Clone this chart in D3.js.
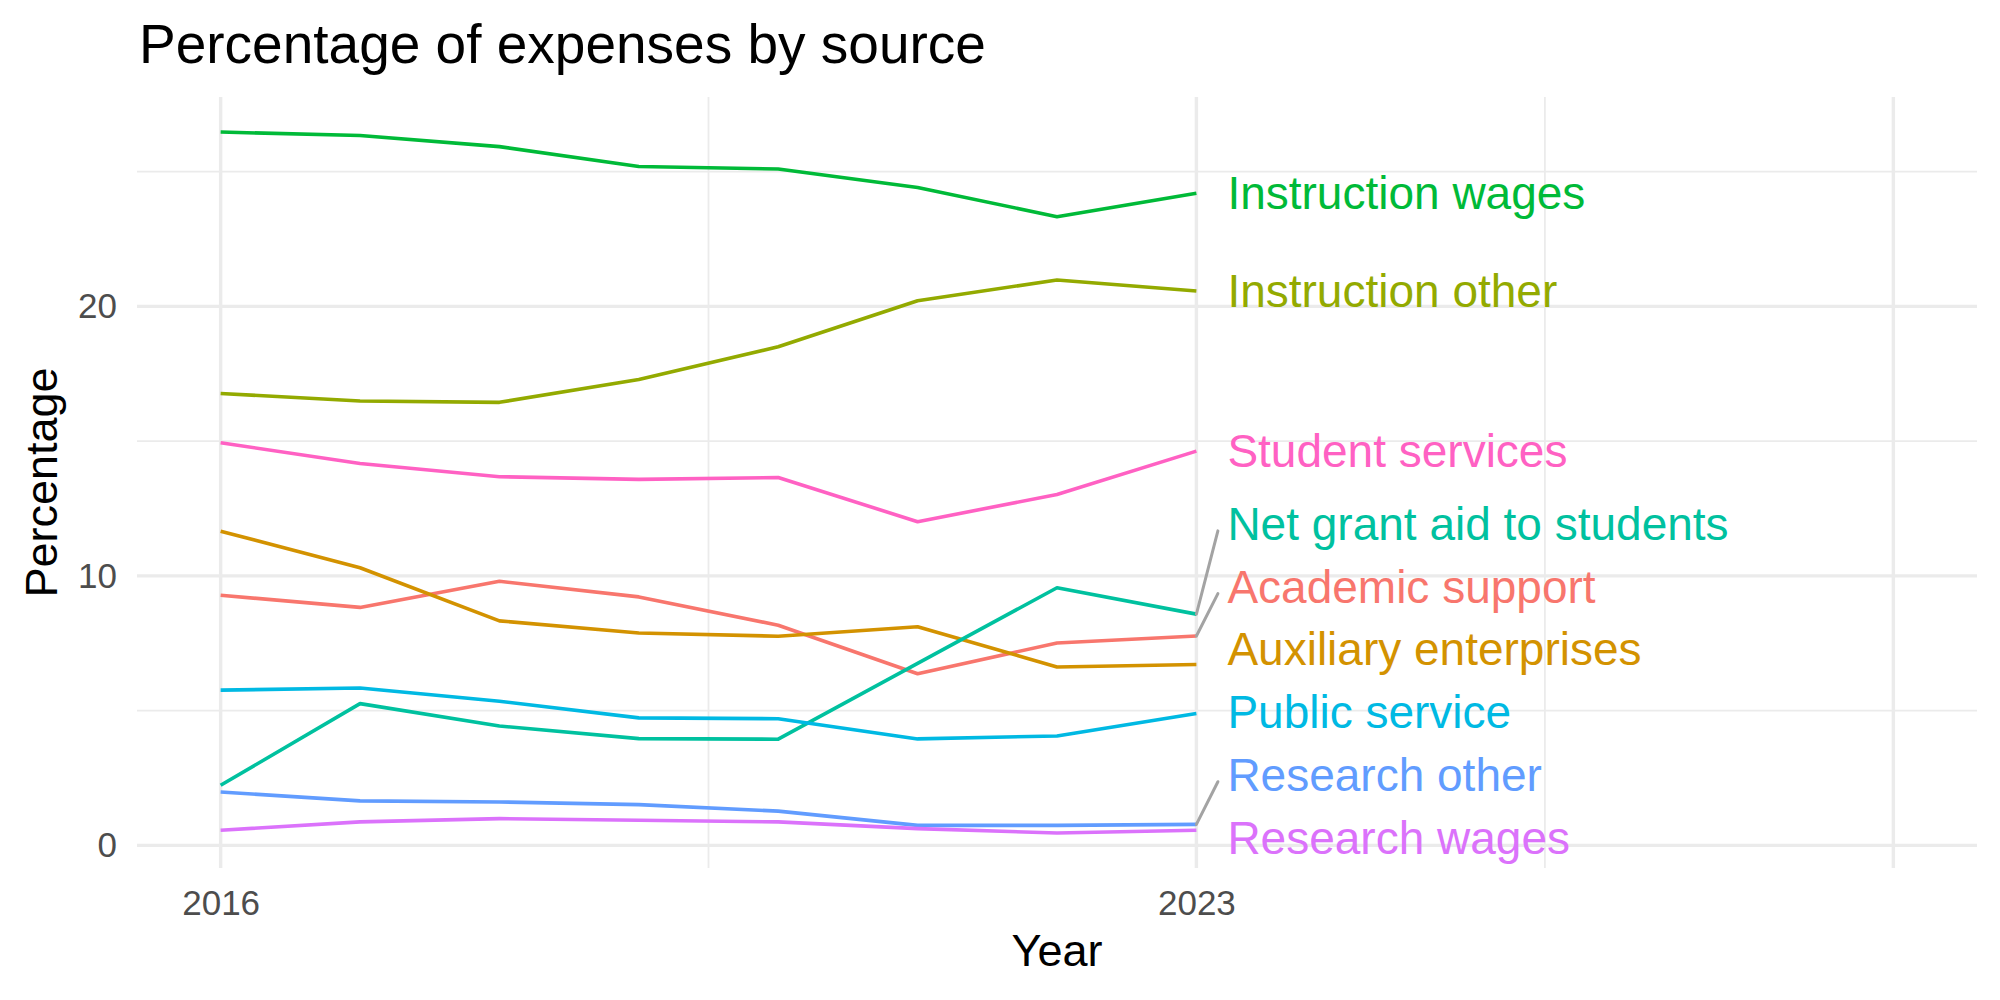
<!DOCTYPE html>
<html>
<head>
<meta charset="utf-8">
<script src="https://cdn.jsdelivr.net/npm/d3@7"></script>
<style>
  body { margin: 0; background: #fff; }
  text { font-family: "Liberation Sans", Arial, sans-serif; }
</style>
</head>
<body>
<div id="chart"></div>
<script>
// data
var years = [2016, 2017, 2018, 2019, 2020, 2021, 2022, 2023];
var categories = ['Academic support', 'Auxiliary enterprises', 'Instruction other',
  'Instruction wages', 'Net grant aid to students', 'Public service',
  'Research other', 'Research wages', 'Student services'];
var academicSupport = [9.28, 8.83, 9.80, 9.22, 8.17, 6.37, 7.51, 7.77];
var auxiliaryEnterprises = [11.66, 10.30, 8.33, 7.88, 7.76, 8.11, 6.62, 6.71];
var instructionOther = [16.77, 16.49, 16.44, 17.29, 18.50, 20.21, 20.98, 20.57];
var instructionWages = [26.47, 26.34, 25.93, 25.19, 25.10, 24.41, 23.33, 24.20];
var netGrantAid = [2.23, 5.26, 4.43, 3.96, 3.94, 6.75, 9.56, 8.58];
var publicService = [5.76, 5.84, 5.35, 4.73, 4.70, 3.95, 4.06, 4.89];
var researchOther = [1.98, 1.65, 1.61, 1.51, 1.27, 0.74, 0.74, 0.78];
var researchWages = [0.56, 0.87, 0.99, 0.93, 0.87, 0.62, 0.46, 0.56];
var studentServices = [14.94, 14.17, 13.68, 13.58, 13.65, 12.01, 13.02, 14.63];
var colors = ['#F8766D', '#D39200', '#93AA00', '#00BA38', '#00C19F',
  '#00B9E3', '#619CFF', '#DB72FB', '#FF61C3'];
var xLimits = [2016, 2028];
var xMajor = [2016, 2023, 2028];
var xMinor = [2019.5, 2025.5];
var xLabels = [2016, 2023];
var yMajor = [0, 10, 20];
var yMinor = [5, 15, 25];

var valueLists = [academicSupport, auxiliaryEnterprises, instructionOther,
  instructionWages, netGrantAid, publicService, researchOther, researchWages,
  studentServices];
var series = categories.map(function(c, i) {
  return { name: c, color: colors[i],
    values: years.map(function(yr, j) { return { year: yr, value: valueLists[i][j] }; }) };
});

var width = 2000, height = 1000;
var panel = { left: 137, right: 1977, top: 97, bottom: 868 };

var svg = d3.select('#chart')
  .append('svg')
    .attr('width', width)
    .attr('height', height);

// scales with ggplot style 5% expansion
var xPad = 0.05 * (xLimits[1] - xLimits[0]);
var x = d3.scaleLinear()
  .domain([xLimits[0] - xPad, xLimits[1] + xPad])
  .range([panel.left, panel.right]);

var allValues = d3.merge(valueLists);
var yExt = d3.extent(allValues);
var yPad = 0.05 * (yExt[1] - yExt[0]);
var y = d3.scaleLinear()
  .domain([yExt[0] - yPad, yExt[1] + yPad])
  .range([panel.bottom, panel.top]);

// grid
var grid = svg.append('g');
grid.selectAll('.yminor').data(yMinor).enter().append('line')
  .attr('x1', panel.left).attr('x2', panel.right)
  .attr('y1', function(d) { return y(d); }).attr('y2', function(d) { return y(d); })
  .attr('stroke', '#EBEBEB').attr('stroke-width', 1.8);
grid.selectAll('.xminor').data(xMinor).enter().append('line')
  .attr('y1', panel.top).attr('y2', panel.bottom)
  .attr('x1', function(d) { return x(d); }).attr('x2', function(d) { return x(d); })
  .attr('stroke', '#EBEBEB').attr('stroke-width', 1.8);
grid.selectAll('.ymajor').data(yMajor).enter().append('line')
  .attr('x1', panel.left).attr('x2', panel.right)
  .attr('y1', function(d) { return y(d); }).attr('y2', function(d) { return y(d); })
  .attr('stroke', '#EBEBEB').attr('stroke-width', 3.4);
grid.selectAll('.xmajor').data(xMajor).enter().append('line')
  .attr('y1', panel.top).attr('y2', panel.bottom)
  .attr('x1', function(d) { return x(d); }).attr('x2', function(d) { return x(d); })
  .attr('stroke', '#EBEBEB').attr('stroke-width', 3.4);

// axes
var xAxis = svg.append('g')
  .attr('transform', 'translate(0,' + panel.bottom + ')')
  .call(d3.axisBottom(x).tickValues(xLabels).tickFormat(d3.format('d')).tickSize(0).tickPadding(22));
var yAxis = svg.append('g')
  .attr('transform', 'translate(' + panel.left + ',0)')
  .call(d3.axisLeft(y).tickValues(yMajor).tickSize(0).tickPadding(20));
[xAxis, yAxis].forEach(function(a) {
  a.select('.domain').remove();
  a.selectAll('text')
    .attr('fill', '#4D4D4D')
    .style('font-size', '35px')
    .style('font-family', '"Liberation Sans", Arial, sans-serif');
});

// lines
var line = d3.line()
  .x(function(d) { return x(d.year); })
  .y(function(d) { return y(d.value); });
svg.selectAll('.series').data(series).enter().append('path')
  .attr('d', function(d) { return line(d.values); })
  .attr('fill', 'none')
  .attr('stroke', function(d) { return d.color; })
  .attr('stroke-width', 3.6)
  .attr('stroke-linejoin', 'round');

// end labels, pushed apart like ggrepel
var spacing = 62.7, halfH = 30.6;
var labels = series.map(function(s) {
  var last = s.values[s.values.length - 1];
  return { name: s.name, color: s.color, px: x(last.year), py: y(last.value) };
}).sort(function(a, b) { return a.py - b.py; });

// pool adjacent violators on shifted targets
var blocks = [];
labels.forEach(function(l, i) {
  blocks.push({ sum: l.py - i * spacing, n: 1 });
  while (blocks.length > 1) {
    var b = blocks[blocks.length - 1], a = blocks[blocks.length - 2];
    if (a.sum / a.n > b.sum / b.n) {
      a.sum += b.sum; a.n += b.n; blocks.pop();
    } else break;
  }
});
var k = 0;
blocks.forEach(function(b) {
  for (var j = 0; j < b.n; j++) { labels[k].ly = b.sum / b.n + k * spacing; k++; }
});
var lo = panel.top + halfH, hi = panel.bottom - halfH;
var n = labels.length;
if (labels[n - 1].ly > hi) labels[n - 1].ly = hi;
for (var i = n - 2; i >= 0; i--) labels[i].ly = Math.min(labels[i].ly, labels[i + 1].ly - spacing);
if (labels[0].ly < lo) labels[0].ly = lo;
for (var i = 1; i < n; i++) labels[i].ly = Math.max(labels[i].ly, labels[i - 1].ly + spacing);

var labelX = x(2023) + 31;
svg.selectAll('.seg').data(labels.filter(function(l) { return Math.abs(l.ly - l.py) > 30; }))
  .enter().append('line')
  .attr('x1', function(d) { return d.px; })
  .attr('y1', function(d) { return d.py; })
  .attr('x2', labelX - 9.5)
  .attr('y2', function(d) { return d.ly + 7; })
  .attr('stroke', '#A3A3A3')
  .attr('stroke-width', 3)
  .attr('stroke-linecap', 'round');

svg.selectAll('.lab').data(labels).enter().append('text')
  .attr('x', labelX)
  .attr('y', function(d) { return d.ly; })
  .attr('dy', '0.35em')
  .attr('fill', function(d) { return d.color; })
  .style('font-size', '46px')
  .text(function(d) { return d.name; });

// titles
svg.append('text')
  .attr('x', 139)
  .attr('y', 63)
  .style('font-size', '55px')
  .attr('fill', '#000')
  .text('Percentage of expenses by source');

svg.append('text')
  .attr('x', (panel.left + panel.right) / 2)
  .attr('y', 966)
  .attr('text-anchor', 'middle')
  .style('font-size', '45px')
  .attr('fill', '#000')
  .text('Year');

svg.append('text')
  .attr('transform', 'translate(57,' + ((panel.top + panel.bottom) / 2) + ')rotate(-90)')
  .attr('text-anchor', 'middle')
  .style('font-size', '45px')
  .attr('fill', '#000')
  .text('Percentage');
</script>
</body>
</html>
